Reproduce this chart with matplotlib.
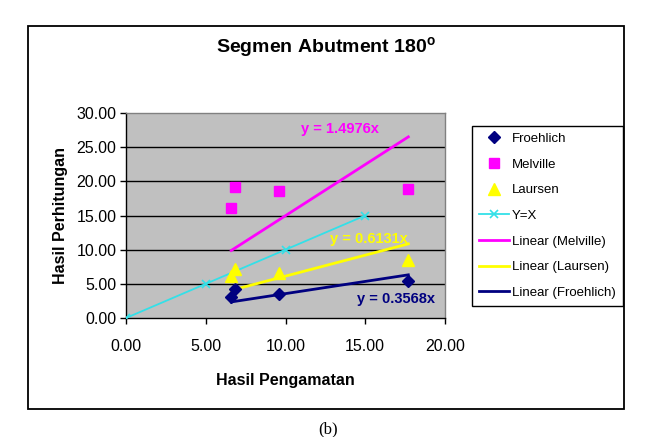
import matplotlib
matplotlib.use("Agg")
import matplotlib.pyplot as plt
from matplotlib.patches import Rectangle
import numpy as np

plt.rcParams['font.family'] = ['Liberation Sans', 'DejaVu Sans']

# ---- data ----
froehlich_x = [6.6, 6.85, 9.6, 17.7]
froehlich_y = [3.1, 4.2, 3.5, 5.35]
melville_x = [6.6, 6.85, 9.6, 17.7]
melville_y = [16.1, 19.2, 18.6, 18.9]
laursen_x = [6.6, 6.85, 9.6, 17.7]
laursen_y = [6.2, 7.2, 6.6, 8.5]
yx_x = [0, 5, 10, 15]
yx_y = [0, 5, 10, 15]
slope_melville = 1.4976
slope_laursen = 0.6131
slope_froehlich = 0.3568
xticks = [0, 5, 10, 15, 20]
yticks = [0, 5, 10, 15, 20, 25, 30]

W, H = 656, 437
fig = plt.figure(figsize=(W / 100, H / 100), dpi=100)

def fx(px):
    return px / W

def fy(py):
    return 1 - py / H

# outer chart frame
fig.patches.append(Rectangle((fx(28), fy(409)), fx(624) - fx(28), fy(26) - fy(409),
                             transform=fig.transFigure, fill=False, edgecolor='black',
                             linewidth=1.3, zorder=0))

ax = fig.add_axes([fx(126), fy(318), fx(445) - fx(126), fy(113) - fy(318)])
ax.set_facecolor('#C0C0C0')
ax.set_xlim(0, 20)
ax.set_ylim(0, 30)
for v in yticks[1:-1]:
    ax.axhline(v, color='black', linewidth=1.0, zorder=1)

ax.plot(froehlich_x, froehlich_y, linestyle='none', marker='D', markersize=6,
        color='#000080', label='Froehlich', zorder=4)
ax.plot(melville_x, melville_y, linestyle='none', marker='s', markersize=6.5,
        color='#FF00FF', label='Melville', zorder=4)
ax.plot(laursen_x, laursen_y, linestyle='none', marker='^', markersize=8,
        color='#FFFF00', label='Laursen', zorder=4)
ax.plot(yx_x, yx_y, color='#33E0E8', marker='x', markersize=6, linewidth=1.3,
        markeredgewidth=1.2, label='Y=X', zorder=3)

def trend(xs, slope):
    x = np.array([min(xs), max(xs)])
    return x, slope * x

tx, ty = trend(melville_x, slope_melville)
ax.plot(tx, ty, color='#FF00FF', linewidth=2, label='Linear (Melville)', zorder=3)
tx, ty = trend(laursen_x, slope_laursen)
ax.plot(tx, ty, color='#FFFF00', linewidth=2, label='Linear (Laursen)', zorder=3)
tx, ty = trend(froehlich_x, slope_froehlich)
ax.plot(tx, ty, color='#000080', linewidth=2, label='Linear (Froehlich)', zorder=3)

ax.text(13.4, 27.7, f'y = {slope_melville}x', color='#FF00FF', fontsize=10.5,
        fontweight='bold', ha='center', va='center')
ax.text(15.2, 11.6, f'y = {slope_laursen}x', color='#FFFF00', fontsize=10.5,
        fontweight='bold', ha='center', va='center')
ax.text(16.9, 2.8, f'y = {slope_froehlich}x', color='#000080', fontsize=10.5,
        fontweight='bold', ha='center', va='center')

ax.set_xticks(xticks)
ax.set_yticks(yticks)
ax.set_xticklabels([f'{v:.2f}' for v in xticks])
ax.set_yticklabels([f'{v:.2f}' for v in yticks])
ax.tick_params(axis='both', direction='out', length=4, width=1, labelsize=11.5,
               colors='black', pad=3)
ax.tick_params(axis='x', pad=11)
for s in ['top', 'right']:
    ax.spines[s].set_color('#808080')
    ax.spines[s].set_linewidth(1)
for s in ['left', 'bottom']:
    ax.spines[s].set_color('black')
    ax.spines[s].set_linewidth(1)

ax.set_xlabel('Hasil Pengamatan', fontsize=11.5, fontweight='bold', labelpad=14)
ax.set_ylabel('Hasil Perhitungan', fontsize=11.5, fontweight='bold', labelpad=6)

fig.text(fx(326), fy(48), 'Segmen Abutment 180$^{\\mathregular{o}}$', fontsize=14,
         fontweight='bold', ha='center', va='center')

leg = ax.legend(loc='upper left', bbox_to_anchor=(fx(472), fy(126)),
                bbox_transform=fig.transFigure, fontsize=9.5, frameon=True,
                fancybox=False, edgecolor='black', framealpha=1,
                labelspacing=1.02, handlelength=2.3, handletextpad=0.25,
                borderpad=0.5, borderaxespad=0)
leg.get_frame().set_linewidth(1)

fig.text(fx(328), fy(421), '(b)', fontsize=12, ha='center', va='top',
         family='Liberation Serif')

fig.savefig('out.png', dpi=100)
